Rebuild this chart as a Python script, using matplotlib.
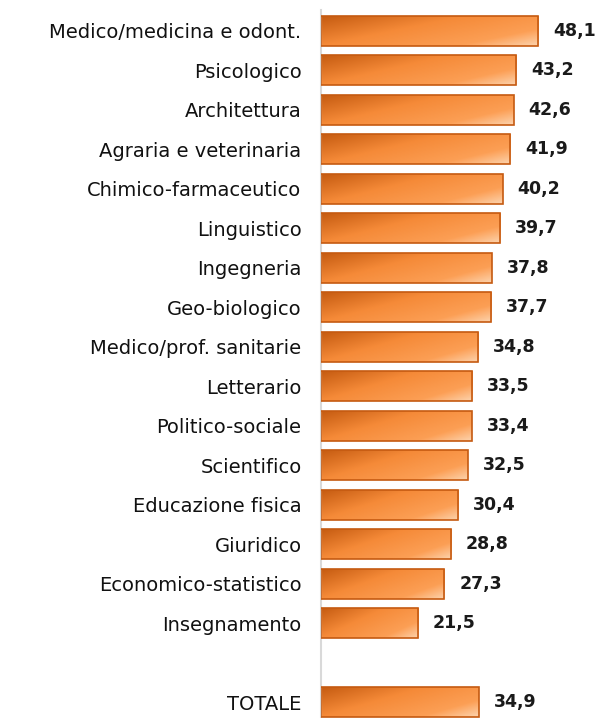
import matplotlib.pyplot as plt
import numpy as np
from matplotlib.colors import LinearSegmentedColormap

categories = ['Medico/medicina e odont.', 'Psicologico', 'Architettura',
              'Agraria e veterinaria', 'Chimico-farmaceutico', 'Linguistico',
              'Ingegneria', 'Geo-biologico', 'Medico/prof. sanitarie',
              'Letterario', 'Politico-sociale', 'Scientifico',
              'Educazione fisica', 'Giuridico', 'Economico-statistico',
              'Insegnamento', 'TOTALE']
values = [48.1, 43.2, 42.6, 41.9, 40.2, 39.7, 37.8, 37.7, 34.8,
          33.5, 33.4, 32.5, 30.4, 28.8, 27.3, 21.5, 34.9]
positions = list(range(16)) + [17]

cmap = LinearSegmentedColormap.from_list(
    'orng', [(0, '#c45a10'), (0.4, '#f58a38'), (0.78, '#fc9f55'), (1, '#fdd3ad')])

fig = plt.figure(figsize=(6, 7.18), dpi=100)
ax = fig.add_axes([0.535, 0.0, 0.452, 1 - 10 / 718])

h = 0.76
bars = ax.barh(positions, values, height=h, color='none', edgecolor='#c55a11', linewidth=1.2, zorder=3)

# diagonal gradient inside each bar
gx, gy = np.meshgrid(np.linspace(0, 1, 200), np.linspace(0, 1, 40))
grad = 0.6 * gx + 0.4 * gy
for b in bars:
    x0, y0 = b.get_x(), b.get_y()
    w, hh = b.get_width(), b.get_height()
    im = ax.imshow(grad, cmap=cmap, extent=(x0, x0 + w, y0 + hh, y0), origin='upper',
                   aspect='auto', zorder=2, interpolation='bilinear')
    im.set_clip_path(b)

for p, v in zip(positions, values):
    ax.text(v + 3.3, p, f'{v:.1f}'.replace('.', ','), va='center', ha='left',
            fontsize=12.5, fontweight='bold', color='#1a1a1a')

ax.set_xlim(0, 60)
ax.set_ylim(17.4, -0.53)
ax.set_yticks(positions)
ax.set_yticklabels(categories, fontsize=14, color='#111111')
ax.tick_params(axis='y', length=0, pad=14)
ax.set_xticks([])
for s in ['top', 'right', 'bottom']:
    ax.spines[s].set_visible(False)
ax.spines['left'].set_color('#d9d9d9')
ax.spines['left'].set_linewidth(1.5)

fig.savefig('out.png', dpi=100)
